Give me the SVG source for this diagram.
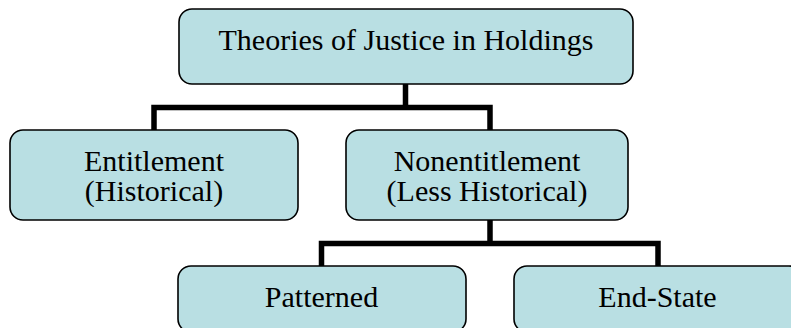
<svg xmlns="http://www.w3.org/2000/svg" width="791" height="328" viewBox="0 0 791 328">
<style>
.box{fill:#B9DFE3;stroke:#000;stroke-width:1.6}
.lbl{font-family:"Liberation Serif","Times New Roman",serif;font-size:30px;fill:#000;text-anchor:middle}
.conn{fill:none;stroke:#000;stroke-width:5.5;stroke-linejoin:miter}
</style>
<defs>
<clipPath id="clipE"><rect x="10" y="130" width="288" height="77"/></clipPath>
<clipPath id="clipN"><rect x="346" y="130" width="282" height="77"/></clipPath>
</defs>
<rect width="791" height="328" fill="#fff"/>
<g id="connectors">
<path class="conn" d="M405.5,84 V107.5 M154,130 V107.5 H490 V130"/>
<path class="conn" d="M490,220 V243.5 M321.5,266 V243.5 H658 V266"/>
</g>
<g id="node-root">
<rect class="box" x="179" y="9" width="454" height="75" rx="13"/>
<text class="lbl" x="406" y="50">Theories of Justice in Holdings</text>
</g>
<g id="node-entitlement">
<rect class="box" x="10" y="130" width="288" height="90" rx="13"/>
<g clip-path="url(#clipE)">
<text class="lbl" x="154" y="171">Entitlement</text>
<text class="lbl" x="154" y="201">(Historical)</text>
</g>
</g>
<g id="node-nonentitlement">
<rect class="box" x="346" y="130" width="282" height="90" rx="13"/>
<g clip-path="url(#clipN)">
<text class="lbl" x="487" y="171">Nonentitlement</text>
<text class="lbl" x="487" y="201">(Less Historical)</text>
</g>
</g>
<g id="node-patterned">
<rect class="box" x="178" y="266" width="288" height="66" rx="13"/>
<text class="lbl" x="321.5" y="307">Patterned</text>
</g>
<g id="node-endstate">
<rect class="box" x="514" y="266" width="288" height="66" rx="13"/>
<text class="lbl" x="657.5" y="307">End-State</text>
</g>
</svg>
